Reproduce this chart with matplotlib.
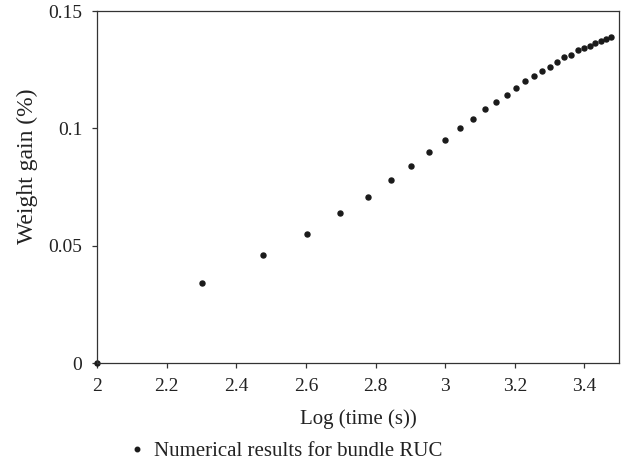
import numpy as np
import matplotlib
matplotlib.use("Agg")
import matplotlib.pyplot as plt

# Immersion time (s) and predicted weight gain (%) for the bundle RUC
time_s = [100, 200, 300, 400, 500, 600, 700, 800, 900, 1000,
          1100, 1200, 1300, 1400, 1500, 1600, 1700, 1800, 1900, 2000,
          2100, 2200, 2300, 2400, 2500, 2600, 2700, 2800, 2900, 3000]
weight_gain = [0.0, 0.0341, 0.0461, 0.0550, 0.0640, 0.0710, 0.0780, 0.0841, 0.0900, 0.0951,
               0.1001, 0.1041, 0.1081, 0.1112, 0.1142, 0.1173, 0.1200, 0.1223, 0.1243, 0.1262,
               0.1282, 0.1304, 0.1311, 0.1332, 0.1342, 0.1353, 0.1362, 0.1371, 0.1380, 0.1390]
x_ticks = [2, 2.2, 2.4, 2.6, 2.8, 3, 3.2, 3.4]
x_tick_labels = ["2", "2.2", "2.4", "2.6", "2.8", "3", "3.2", "3.4"]
y_ticks = [0, 0.05, 0.1, 0.15]
y_tick_labels = ["0", "0.05", "0.1", "0.15"]

plt.rcParams["font.family"] = ["Liberation Serif", "DejaVu Serif"]

fig = plt.figure(figsize=(6.27, 4.73), dpi=100)
ax = fig.add_axes([0.1547, 0.2319, 0.8330, 0.7448])

log_t = np.log10(time_s)
ax.plot(log_t, weight_gain, linestyle="none", marker="o", markersize=3.6,
        color="#1a1a1a", clip_on=False, label="Numerical results for bundle RUC")

ax.set_xlim(2, 3.5)
ax.set_ylim(0, 0.15)
ax.set_xticks(x_ticks)
ax.set_xticklabels(x_tick_labels)
ax.set_yticks(y_ticks)
ax.set_yticklabels(y_tick_labels)

for side in ["left", "right", "top", "bottom"]:
    ax.spines[side].set_color("#333333")
    ax.spines[side].set_linewidth(0.9)

ax.tick_params(axis="both", direction="out", length=3.5, width=0.9,
               color="#333333", labelsize=14, labelcolor="#222222", pad=7)
ax.tick_params(top=False, right=False)

ax.set_xlabel("Log (time (s))", fontsize=15, color="#222222", labelpad=10)
ax.set_ylabel("Weight gain (%)", fontsize=17, color="#222222")
ax.yaxis.set_label_coords(-0.113, 0.56)

fig.legend(loc="center left", bbox_to_anchor=(0.195, 0.046), frameon=False,
           fontsize=15, handlelength=0.6, handletextpad=0.5, borderaxespad=0,
           labelcolor="#222222", markerscale=0.9)

fig.savefig("out.png", dpi=100)
